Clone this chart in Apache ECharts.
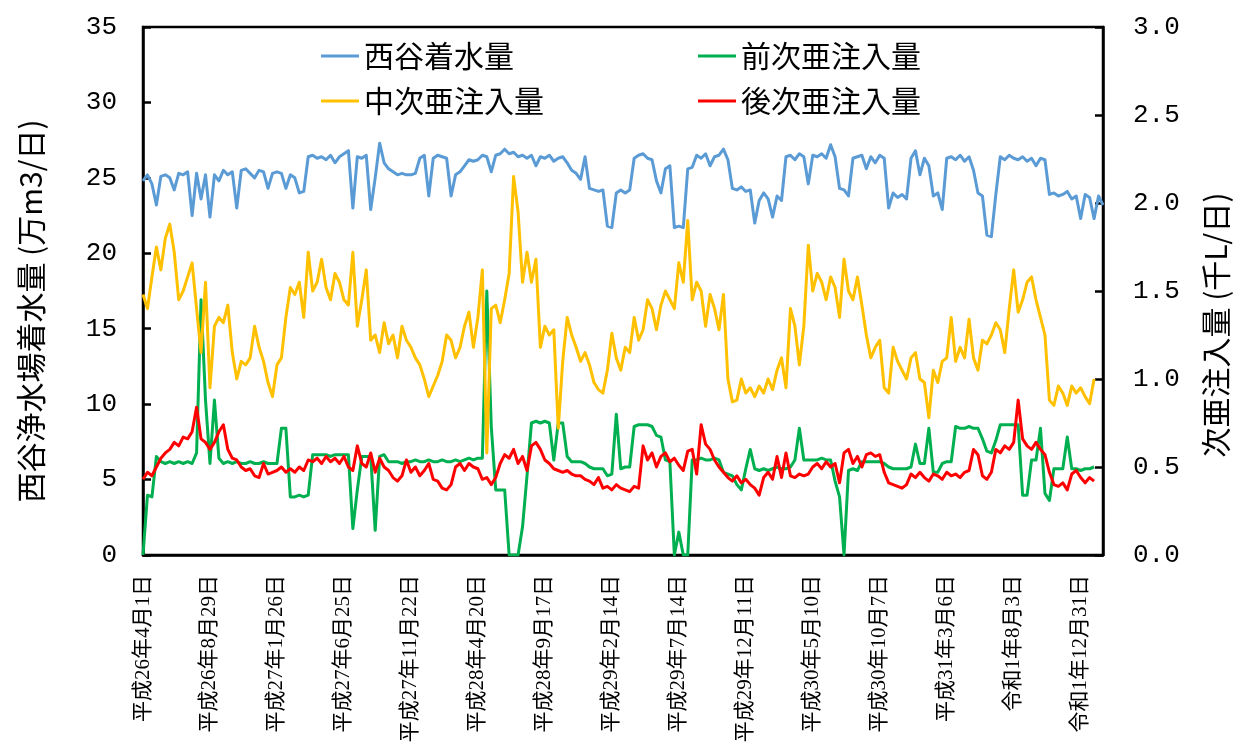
<!DOCTYPE html>
<html><head><meta charset="utf-8">
<script src="https://cdn.jsdelivr.net/npm/echarts@6/dist/echarts.min.js"></script>
<style>html,body{margin:0;padding:0;background:#fff}#c{width:1236px;height:751px}</style>
</head><body><div id="c"></div>
<script>
// one sample every 10 days from 平成26年4月1日 (day 0)
const sampleStepDays = 10;
const lastDay = 2150;
const tickStepDays = 150;

const tickLabels = ['平成26年4月1日','平成26年8月29日','平成27年1月26日','平成27年6月25日','平成27年11月22日',
  '平成28年4月20日','平成28年9月17日','平成29年2月14日','平成29年7月14日','平成29年12月11日',
  '平成30年5月10日','平成30年10月7日','平成31年3月6日','令和1年8月3日','令和1年12月31日'];

const seriesNames = ['西谷着水量','前次亜注入量','中次亜注入量','後次亜注入量'];

// 西谷着水量 (万m3/日) - left axis
const nishitaniInflow = [
 24.8,25.2,24.6,23.2,25.1,25.2,25.0,24.2,25.3,25.2,
 25.4,22.5,25.3,23.6,25.2,22.4,25.2,24.8,25.5,25.2,
 25.4,23.0,25.5,25.6,25.3,25.0,25.5,25.4,24.3,25.3,
 25.4,25.3,24.3,25.2,25.0,24.0,24.1,26.4,26.5,26.3,
 26.4,26.2,26.5,26.0,26.4,26.6,26.8,23.0,26.4,26.3,
 26.5,22.9,25.0,27.3,26.0,25.6,25.4,25.2,25.3,25.2,
 25.2,25.3,26.3,26.5,23.8,26.3,26.5,26.4,26.3,23.8,
 25.2,25.4,25.8,26.2,26.1,26.2,26.5,26.4,25.4,26.5,
 26.6,26.9,26.6,26.7,26.4,26.5,26.3,26.5,25.8,26.4,
 26.3,26.5,26.1,26.3,26.4,26.0,25.5,25.3,24.9,26.4,
 24.3,24.2,24.1,24.2,21.8,21.7,24.0,24.2,24.0,24.2,
 26.3,26.5,26.6,26.3,26.2,24.8,24.0,25.6,25.8,21.7,
 21.8,21.7,25.6,25.7,26.5,26.3,26.6,25.8,26.4,26.5,
 26.9,26.2,24.3,24.2,24.4,24.1,24.2,22.0,23.5,24.0,
 23.6,22.4,23.8,23.5,26.4,26.5,26.2,26.6,26.4,24.6,
 26.5,26.4,26.6,26.3,27.2,26.4,24.3,24.2,23.8,26.3,
 26.4,26.5,25.6,26.4,26.0,26.5,26.3,23.0,24.0,23.7,
 23.9,23.6,26.3,26.8,25.2,26.3,25.8,23.8,24.0,22.9,
 26.3,26.4,26.2,26.5,26.1,26.4,25.5,24.0,23.8,21.2,
 21.1,23.9,26.4,26.2,26.5,26.3,26.2,26.4,26.1,26.3,
 25.8,26.3,26.2,23.9,24.0,23.8,23.9,24.1,23.6,23.8,
 22.3,23.9,23.7,22.3,23.8,23.2];

// 前次亜注入量 (千L/日) - right axis
const preChlorine = [
 0.00,0.34,0.33,0.56,0.53,0.52,0.53,0.52,0.53,0.52,
 0.53,0.52,0.58,1.45,0.88,0.52,0.88,0.55,0.52,0.53,
 0.52,0.53,0.52,0.52,0.53,0.52,0.52,0.53,0.52,0.52,
 0.52,0.72,0.72,0.33,0.33,0.34,0.33,0.34,0.57,0.57,
 0.57,0.57,0.56,0.57,0.57,0.57,0.57,0.15,0.37,0.56,
 0.56,0.56,0.14,0.56,0.57,0.53,0.53,0.53,0.52,0.53,
 0.53,0.54,0.53,0.53,0.54,0.53,0.53,0.54,0.53,0.53,
 0.54,0.53,0.54,0.55,0.54,0.55,0.55,1.50,0.73,0.37,
 0.37,0.37,0.00,0.00,0.00,0.16,0.45,0.75,0.76,0.75,
 0.76,0.75,0.54,0.75,0.75,0.56,0.53,0.53,0.53,0.52,
 0.50,0.49,0.49,0.49,0.45,0.46,0.80,0.49,0.50,0.50,
 0.73,0.74,0.74,0.74,0.73,0.68,0.67,0.54,0.53,0.00,
 0.13,0.00,0.00,0.54,0.54,0.55,0.54,0.54,0.55,0.54,
 0.47,0.46,0.45,0.40,0.37,0.49,0.60,0.49,0.48,0.49,
 0.48,0.49,0.50,0.49,0.49,0.50,0.54,0.72,0.54,0.54,
 0.54,0.54,0.55,0.54,0.54,0.42,0.33,0.00,0.48,0.49,
 0.48,0.53,0.53,0.53,0.53,0.53,0.52,0.50,0.49,0.49,
 0.49,0.49,0.50,0.63,0.52,0.52,0.72,0.47,0.47,0.52,
 0.53,0.53,0.73,0.72,0.72,0.73,0.72,0.72,0.66,0.59,
 0.58,0.65,0.74,0.74,0.74,0.74,0.74,0.34,0.34,0.54,
 0.54,0.72,0.35,0.31,0.49,0.49,0.49,0.67,0.49,0.49,
 0.48,0.49,0.49,0.50];

// 中次亜注入量 (千L/日) - right axis
const midChlorine = [
 1.48,1.40,1.58,1.75,1.62,1.80,1.88,1.72,1.45,1.50,
 1.58,1.66,1.40,1.15,1.55,0.95,1.30,1.35,1.32,1.42,
 1.15,1.00,1.10,1.08,1.12,1.30,1.18,1.10,0.98,0.90,
 1.08,1.12,1.35,1.52,1.48,1.55,1.35,1.72,1.50,1.55,
 1.68,1.52,1.45,1.60,1.55,1.45,1.42,1.72,1.30,1.45,
 1.62,1.22,1.25,1.15,1.32,1.20,1.25,1.12,1.30,1.22,
 1.18,1.12,1.08,1.00,0.90,0.96,1.02,1.10,1.25,1.22,
 1.12,1.18,1.30,1.38,1.18,1.35,1.62,0.58,1.40,1.42,
 1.32,1.45,1.60,2.15,1.95,1.55,1.72,1.55,1.68,1.18,
 1.30,1.25,1.28,0.72,1.10,1.35,1.25,1.18,1.10,1.15,
 1.08,0.98,0.94,0.92,1.05,1.26,1.12,1.05,1.18,1.15,
 1.35,1.22,1.28,1.45,1.40,1.28,1.42,1.50,1.45,1.40,
 1.66,1.55,1.90,1.45,1.55,1.50,1.30,1.48,1.40,1.28,
 1.48,1.00,0.87,0.88,1.00,0.92,0.95,0.90,0.96,0.92,
 1.00,0.94,1.05,1.12,0.95,1.40,1.30,1.08,1.30,1.76,
 1.50,1.60,1.55,1.45,1.58,1.52,1.35,1.68,1.50,1.45,
 1.58,1.42,1.25,1.12,1.18,1.22,0.95,0.92,1.18,1.10,
 1.05,1.00,1.12,1.15,1.00,0.98,0.78,1.05,0.98,1.10,
 1.12,1.35,1.10,1.18,1.12,1.34,1.12,1.05,1.22,1.20,
 1.25,1.32,1.28,1.15,1.40,1.62,1.38,1.45,1.55,1.58,
 1.45,1.35,1.25,0.88,0.85,0.96,0.92,0.85,0.96,0.92,
 0.95,0.90,0.86,1.00];

// 後次亜注入量 (千L/日) - right axis
const postChlorine = [
 0.43,0.47,0.45,0.50,0.55,0.58,0.60,0.64,0.62,0.67,
 0.66,0.70,0.84,0.66,0.64,0.60,0.64,0.70,0.74,0.60,
 0.55,0.54,0.50,0.48,0.49,0.45,0.44,0.52,0.46,0.47,
 0.48,0.50,0.47,0.49,0.47,0.50,0.48,0.54,0.53,0.55,
 0.52,0.56,0.53,0.55,0.52,0.56,0.50,0.48,0.62,0.52,
 0.50,0.58,0.47,0.55,0.50,0.48,0.44,0.42,0.45,0.54,
 0.47,0.50,0.45,0.48,0.52,0.43,0.42,0.38,0.37,0.40,
 0.50,0.52,0.48,0.52,0.50,0.49,0.43,0.44,0.40,0.44,
 0.52,0.57,0.55,0.60,0.52,0.56,0.48,0.62,0.64,0.60,
 0.54,0.52,0.49,0.48,0.47,0.48,0.46,0.45,0.45,0.43,
 0.42,0.40,0.44,0.38,0.39,0.37,0.40,0.38,0.37,0.36,
 0.39,0.38,0.62,0.54,0.58,0.50,0.56,0.58,0.53,0.55,
 0.51,0.48,0.59,0.60,0.46,0.74,0.63,0.60,0.54,0.50,
 0.47,0.44,0.42,0.45,0.41,0.43,0.40,0.38,0.34,0.44,
 0.47,0.43,0.56,0.44,0.58,0.45,0.44,0.46,0.45,0.46,
 0.50,0.52,0.49,0.53,0.50,0.52,0.41,0.58,0.60,0.52,
 0.56,0.50,0.57,0.58,0.56,0.57,0.47,0.41,0.40,0.39,
 0.38,0.40,0.46,0.44,0.47,0.44,0.42,0.46,0.45,0.43,
 0.47,0.45,0.46,0.44,0.47,0.48,0.60,0.57,0.45,0.43,
 0.47,0.60,0.58,0.62,0.60,0.64,0.88,0.66,0.62,0.60,
 0.64,0.60,0.57,0.47,0.40,0.39,0.41,0.37,0.46,0.48,
 0.44,0.41,0.44,0.42];

const colors = ['#5B9BD5','#00B050','#FFC000','#FF0000'];

function toPairs(vals){ return vals.map((v,i)=>[i*sampleStepDays, v]); }

const chart = echarts.init(document.getElementById('c'), null, {renderer:'canvas'});
const numFont = '"Liberation Mono", monospace';
const jpFont = '"Noto Sans CJK JP", sans-serif';
const lineW = 3;

function lineSeries(name, vals, color, yIdx){
  return {
    name, type:'line', yAxisIndex:yIdx, data: toPairs(vals),
    showSymbol:false, symbol:'none', color,
    itemStyle:{color},
    lineStyle:{color, width:lineW, join:'round'}, emphasis:{disabled:true}
  };
}

const legendText = {fontSize:30, fontFamily:jpFont, color:'#000', lineHeight:32};

chart.setOption({
  animation:false,
  backgroundColor:'#fff',
  grid:{left:143, right:133, top:27, bottom:196, show:true, borderColor:'#000', borderWidth:2.5, containLabel:false},
  legend:[
    {data:[seriesNames[0], seriesNames[2]], orient:'vertical', left:316, top:35, itemWidth:38, itemHeight:3, itemGap:13, icon:'rect', textStyle:legendText, selectedMode:false},
    {data:[seriesNames[1], seriesNames[3]], orient:'vertical', left:693, top:35, itemWidth:38, itemHeight:3, itemGap:13, icon:'rect', textStyle:legendText, selectedMode:false}
  ],
  xAxis:{
    type:'value', min:0, max:lastDay, interval:tickStepDays,
    axisLine:{show:true, onZero:false, lineStyle:{color:'#000', width:2.5}},
    axisTick:{show:false}, splitLine:{show:false},
    axisLabel:{
      rotate:90, margin:20, fontSize:21, color:'#000',
      fontFamily:'"Liberation Serif", "Noto Sans CJK JP", serif',
      hideOverlap:false, showMaxLabel:true, showMinLabel:true,
      formatter:(v)=>{ const k = Math.round(v/tickStepDays); return (Math.abs(v-k*tickStepDays)<1e-6 && k<tickLabels.length) ? tickLabels[k] : ''; }
    }
  },
  yAxis:[
    {type:'value', position:'left', min:0, max:35, interval:5,
     axisLine:{show:true, lineStyle:{color:'#000', width:2.5}},
     axisTick:{show:true, inside:true, length:8, lineStyle:{color:'#000', width:2.5}},
     splitLine:{show:false},
     axisLabel:{margin:26, fontSize:26, fontFamily:numFont, color:'#000'}},
    {type:'value', position:'right', min:0, max:3, interval:0.5,
     axisLine:{show:true, lineStyle:{color:'#000', width:2.5}},
     axisTick:{show:true, inside:true, length:8, lineStyle:{color:'#000', width:2.5}},
     splitLine:{show:false},
     axisLabel:{margin:30, fontSize:26, fontFamily:numFont, color:'#000', formatter:(v)=>v.toFixed(1)}}
  ],
  graphic:[
    {type:'text', x:31, y:311, rotation:Math.PI/2, silent:true,
     style:{text:'西谷浄水場着水量 (万m3/日)', fontSize:30, fontFamily:jpFont, fill:'#000', align:'center', verticalAlign:'middle', textAlign:'center', textVerticalAlign:'middle'}},
    {type:'text', x:1216, y:325, rotation:Math.PI/2, silent:true,
     style:{text:'次亜注入量 (千L/日)', fontSize:30, fontFamily:jpFont, fill:'#000', align:'center', verticalAlign:'middle', textAlign:'center', textVerticalAlign:'middle'}}
  ],
  series:[
    lineSeries(seriesNames[0], nishitaniInflow, colors[0], 0),
    lineSeries(seriesNames[1], preChlorine, colors[1], 1),
    lineSeries(seriesNames[2], midChlorine, colors[2], 1),
    lineSeries(seriesNames[3], postChlorine, colors[3], 1)
  ]
});
</script>
</body></html>
